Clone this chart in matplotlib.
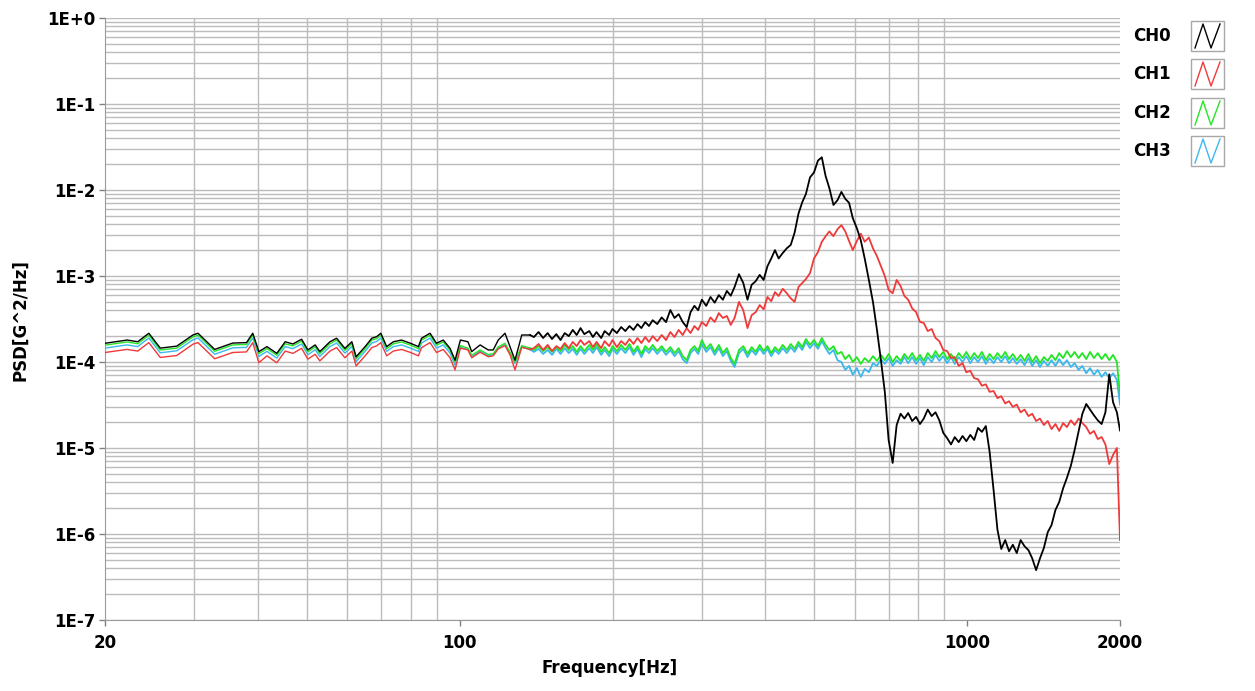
import numpy as np
import matplotlib
matplotlib.use("Agg")
import matplotlib.pyplot as plt
from matplotlib.ticker import FixedLocator, NullFormatter
from matplotlib.patches import Rectangle

# ---- data ----
# low band: 20 .. ~138 Hz
freq_lo = [20.0, 22.1, 23.2, 24.4, 25.7, 27.7, 29.8, 30.5, 32.9, 35.7,
           38.0, 39.1, 40.2, 41.7, 43.6, 45.3, 46.9, 48.8, 50.2, 51.9,
           53.0, 55.5, 57.2, 59.4, 61.3, 62.5, 65.1, 67.1, 68.6, 69.9,
           71.8, 74.0, 76.8, 80.0, 82.9, 84.1, 87.4, 90.0, 92.8, 95.7,
           97.9, 100.3, 103.8, 105.6, 109.7, 113.8, 116.4, 119.1, 122.8, 125.6,
           128.5, 132.5, 137.6]

ch0_lo = [1.65e-4, 1.80e-4, 1.72e-4, 2.16e-4, 1.45e-4, 1.53e-4, 2.06e-4, 2.16e-4, 1.40e-4, 1.66e-4,
          1.68e-4, 2.16e-4, 1.32e-4, 1.51e-4, 1.26e-4, 1.72e-4, 1.62e-4, 1.84e-4, 1.38e-4, 1.58e-4,
          1.32e-4, 1.72e-4, 1.89e-4, 1.44e-4, 1.72e-4, 1.15e-4, 1.51e-4, 1.89e-4, 1.97e-4, 2.16e-4,
          1.51e-4, 1.72e-4, 1.80e-4, 1.65e-4, 1.51e-4, 1.89e-4, 2.16e-4, 1.65e-4, 1.80e-4, 1.44e-4,
          1.05e-4, 1.80e-4, 1.72e-4, 1.32e-4, 1.58e-4, 1.38e-4, 1.38e-4, 1.80e-4, 2.16e-4, 1.51e-4,
          1.05e-4, 2.06e-4, 2.06e-4]

ch1_lo = [1.29e-4, 1.40e-4, 1.34e-4, 1.68e-4, 1.13e-4, 1.19e-4, 1.61e-4, 1.68e-4, 1.09e-4, 1.29e-4,
          1.31e-4, 1.68e-4, 9.8e-5, 1.18e-4, 9.8e-5, 1.34e-4, 1.26e-4, 1.44e-4, 1.08e-4, 1.23e-4,
          1.03e-4, 1.34e-4, 1.47e-4, 1.12e-4, 1.34e-4, 9.0e-5, 1.18e-4, 1.47e-4, 1.54e-4, 1.68e-4,
          1.18e-4, 1.34e-4, 1.40e-4, 1.29e-4, 1.18e-4, 1.47e-4, 1.68e-4, 1.29e-4, 1.40e-4, 1.12e-4,
          8.1e-5, 1.45e-4, 1.38e-4, 1.12e-4, 1.30e-4, 1.15e-4, 1.18e-4, 1.42e-4, 1.55e-4, 1.22e-4,
          8.1e-5, 1.48e-4, 1.40e-4]

ch2_lo = [1.57e-4, 1.71e-4, 1.63e-4, 2.05e-4, 1.38e-4, 1.45e-4, 1.96e-4, 2.05e-4, 1.33e-4, 1.58e-4,
          1.60e-4, 2.05e-4, 1.25e-4, 1.43e-4, 1.20e-4, 1.63e-4, 1.54e-4, 1.75e-4, 1.31e-4, 1.50e-4,
          1.25e-4, 1.63e-4, 1.80e-4, 1.37e-4, 1.63e-4, 1.09e-4, 1.43e-4, 1.80e-4, 1.87e-4, 2.05e-4,
          1.43e-4, 1.63e-4, 1.71e-4, 1.57e-4, 1.43e-4, 1.80e-4, 2.05e-4, 1.57e-4, 1.71e-4, 1.37e-4,
          1.00e-4, 1.55e-4, 1.45e-4, 1.20e-4, 1.38e-4, 1.22e-4, 1.25e-4, 1.50e-4, 1.65e-4, 1.30e-4,
          1.00e-4, 1.55e-4, 1.45e-4]

ch3_lo = [1.45e-4, 1.58e-4, 1.51e-4, 1.90e-4, 1.28e-4, 1.35e-4, 1.81e-4, 1.90e-4, 1.23e-4, 1.46e-4,
          1.48e-4, 1.90e-4, 1.16e-4, 1.33e-4, 1.11e-4, 1.51e-4, 1.43e-4, 1.62e-4, 1.21e-4, 1.39e-4,
          1.16e-4, 1.51e-4, 1.66e-4, 1.27e-4, 1.51e-4, 1.01e-4, 1.33e-4, 1.66e-4, 1.73e-4, 1.90e-4,
          1.33e-4, 1.51e-4, 1.58e-4, 1.45e-4, 1.33e-4, 1.66e-4, 1.90e-4, 1.45e-4, 1.58e-4, 1.27e-4,
          9.2e-5, 1.48e-4, 1.40e-4, 1.15e-4, 1.33e-4, 1.18e-4, 1.20e-4, 1.45e-4, 1.58e-4, 1.25e-4,
          9.6e-5, 1.50e-4, 1.40e-4]

# high band: 140 .. 2000 Hz
freq_hi = [140, 143, 146, 149, 152, 155, 158, 161, 164, 167,
           170, 173, 176, 180, 183, 186, 190, 193, 197, 200,
           204, 208, 212, 216, 220, 224, 228, 232, 236, 240,
           245, 250, 255, 260, 265, 270, 275, 280, 285, 290,
           295, 300, 306, 312, 318, 324, 330, 336, 342, 348,
           355, 362, 369, 376, 383, 390, 397, 404, 411, 418,
           425, 433, 441, 449, 457, 465, 473, 481, 490, 499,
           508, 517, 526, 535, 545, 555, 565, 575, 585, 595,
           606, 617, 628, 640, 652, 664, 676, 688, 700, 713,
           726, 739, 752, 765, 779, 793, 807, 821, 836, 851,
           866, 881, 897, 913, 929, 945, 962, 979, 996, 1014,
           1032, 1050, 1069, 1088, 1107, 1127, 1147, 1167, 1188, 1209,
           1230, 1252, 1274, 1297, 1320, 1343, 1367, 1391, 1416, 1441,
           1466, 1492, 1518, 1545, 1572, 1600, 1628, 1657, 1686, 1716,
           1746, 1777, 1808, 1840, 1872, 1905, 1938, 1972, 2000]

ch0_hi = [1.95e-4, 2.23e-4, 1.90e-4, 2.17e-4, 1.85e-4, 2.11e-4, 1.80e-4, 2.17e-4, 2.00e-4, 2.36e-4,
          2.06e-4, 2.48e-4, 2.11e-4, 2.29e-4, 1.95e-4, 2.23e-4, 1.90e-4, 2.29e-4, 2.06e-4, 2.42e-4,
          2.17e-4, 2.55e-4, 2.29e-4, 2.62e-4, 2.36e-4, 2.76e-4, 2.48e-4, 2.91e-4, 2.62e-4, 3.06e-4,
          2.76e-4, 3.30e-4, 2.91e-4, 4.02e-4, 3.25e-4, 3.60e-4, 2.92e-4, 2.55e-4, 3.80e-4, 4.50e-4,
          4.00e-4, 5.30e-4, 4.50e-4, 5.70e-4, 4.90e-4, 6.00e-4, 5.30e-4, 6.70e-4, 5.90e-4, 7.45e-4,
          1.05e-3, 8.30e-4, 5.30e-4, 7.90e-4, 8.70e-4, 1.03e-3, 9.00e-4, 1.30e-3, 1.60e-3, 2.00e-3,
          1.60e-3, 1.85e-3, 2.10e-3, 2.30e-3, 3.20e-3, 5.30e-3, 7.20e-3, 9.00e-3, 1.40e-2, 1.60e-2,
          2.20e-2, 2.40e-2, 1.45e-2, 1.05e-2, 6.70e-3, 7.60e-3, 9.50e-3, 7.90e-3, 7.10e-3, 4.70e-3,
          3.60e-3, 2.60e-3, 1.60e-3, 9.00e-4, 5.00e-4, 2.36e-4, 1.05e-4, 4.50e-5, 1.24e-5, 6.70e-6,
          1.85e-5, 2.50e-5, 2.20e-5, 2.55e-5, 2.06e-5, 2.30e-5, 1.90e-5, 2.20e-5, 2.80e-5, 2.35e-5,
          2.60e-5, 2.10e-5, 1.50e-5, 1.30e-5, 1.10e-5, 1.34e-5, 1.17e-5, 1.38e-5, 1.20e-5, 1.42e-5,
          1.24e-5, 1.71e-5, 1.54e-5, 1.80e-5, 9.00e-6, 3.25e-6, 1.12e-6, 6.70e-7, 8.50e-7, 6.30e-7,
          7.50e-7, 6.00e-7, 8.50e-7, 7.20e-7, 6.50e-7, 5.20e-7, 3.80e-7, 5.20e-7, 6.90e-7, 1.05e-6,
          1.27e-6, 1.90e-6, 2.36e-6, 3.40e-6, 4.50e-6, 6.20e-6, 9.50e-6, 1.54e-5, 2.50e-5, 3.25e-5,
          2.80e-5, 2.40e-5, 2.10e-5, 1.90e-5, 2.60e-5, 7.20e-5, 3.40e-5, 2.60e-5, 1.60e-5]

ch1_hi = [1.45e-4, 1.62e-4, 1.38e-4, 1.58e-4, 1.34e-4, 1.53e-4, 1.42e-4, 1.66e-4, 1.45e-4, 1.71e-4,
          1.53e-4, 1.80e-4, 1.58e-4, 1.75e-4, 1.49e-4, 1.71e-4, 1.45e-4, 1.75e-4, 1.53e-4, 1.80e-4,
          1.49e-4, 1.75e-4, 1.58e-4, 1.85e-4, 1.62e-4, 1.90e-4, 1.66e-4, 1.95e-4, 1.71e-4, 2.00e-4,
          1.75e-4, 2.06e-4, 1.80e-4, 2.23e-4, 1.95e-4, 2.36e-4, 2.06e-4, 2.48e-4, 2.17e-4, 2.62e-4,
          2.36e-4, 2.92e-4, 2.62e-4, 3.30e-4, 2.92e-4, 3.70e-4, 3.25e-4, 3.43e-4, 2.70e-4, 3.25e-4,
          5.00e-4, 4.00e-4, 2.48e-4, 3.50e-4, 3.80e-4, 4.60e-4, 4.10e-4, 5.70e-4, 5.10e-4, 6.50e-4,
          5.85e-4, 7.10e-4, 6.30e-4, 5.50e-4, 5.00e-4, 7.45e-4, 8.30e-4, 9.20e-4, 1.08e-3, 1.60e-3,
          1.90e-3, 2.50e-3, 2.90e-3, 3.30e-3, 2.90e-3, 3.50e-3, 3.90e-3, 3.30e-3, 2.55e-3, 2.00e-3,
          2.55e-3, 3.10e-3, 2.50e-3, 2.80e-3, 2.10e-3, 1.70e-3, 1.30e-3, 1.00e-3, 6.90e-4, 6.30e-4,
          9.00e-4, 7.65e-4, 5.85e-4, 5.30e-4, 4.20e-4, 3.80e-4, 2.92e-4, 2.84e-4, 2.29e-4, 2.42e-4,
          1.90e-4, 1.75e-4, 1.38e-4, 1.34e-4, 1.11e-4, 1.14e-4, 9.00e-5, 9.70e-5, 7.60e-5, 7.90e-5,
          6.50e-5, 6.30e-5, 5.30e-5, 5.50e-5, 4.50e-5, 4.60e-5, 3.80e-5, 4.00e-5, 3.30e-5, 3.50e-5,
          3.00e-5, 3.20e-5, 2.60e-5, 2.80e-5, 2.35e-5, 2.50e-5, 2.06e-5, 2.20e-5, 1.85e-5, 2.06e-5,
          1.66e-5, 1.90e-5, 1.58e-5, 1.95e-5, 1.75e-5, 2.10e-5, 1.85e-5, 2.20e-5, 1.95e-5, 1.75e-5,
          1.46e-5, 1.58e-5, 1.27e-5, 1.34e-5, 1.10e-5, 6.50e-6, 8.30e-6, 1.00e-5, 8.50e-7]

ch2_hi = [1.38e-4, 1.53e-4, 1.34e-4, 1.49e-4, 1.31e-4, 1.49e-4, 1.34e-4, 1.58e-4, 1.38e-4, 1.53e-4,
          1.31e-4, 1.53e-4, 1.34e-4, 1.58e-4, 1.38e-4, 1.62e-4, 1.31e-4, 1.49e-4, 1.27e-4, 1.53e-4,
          1.34e-4, 1.58e-4, 1.38e-4, 1.62e-4, 1.31e-4, 1.53e-4, 1.24e-4, 1.53e-4, 1.38e-4, 1.58e-4,
          1.34e-4, 1.53e-4, 1.31e-4, 1.49e-4, 1.27e-4, 1.45e-4, 1.17e-4, 1.05e-4, 1.38e-4, 1.53e-4,
          1.34e-4, 1.80e-4, 1.42e-4, 1.62e-4, 1.31e-4, 1.58e-4, 1.27e-4, 1.45e-4, 1.11e-4, 9.50e-5,
          1.38e-4, 1.53e-4, 1.24e-4, 1.49e-4, 1.31e-4, 1.58e-4, 1.34e-4, 1.53e-4, 1.27e-4, 1.49e-4,
          1.34e-4, 1.58e-4, 1.38e-4, 1.62e-4, 1.42e-4, 1.71e-4, 1.49e-4, 1.85e-4, 1.58e-4, 1.80e-4,
          1.53e-4, 1.90e-4, 1.58e-4, 1.38e-4, 1.53e-4, 1.24e-4, 1.31e-4, 1.08e-4, 1.21e-4, 1.00e-4,
          1.14e-4, 9.50e-5, 1.11e-4, 1.00e-4, 1.17e-4, 1.03e-4, 1.21e-4, 1.05e-4, 1.24e-4, 1.00e-4,
          1.17e-4, 1.03e-4, 1.24e-4, 1.08e-4, 1.27e-4, 1.05e-4, 1.21e-4, 1.03e-4, 1.27e-4, 1.11e-4,
          1.34e-4, 1.14e-4, 1.31e-4, 1.08e-4, 1.24e-4, 1.05e-4, 1.27e-4, 1.11e-4, 1.31e-4, 1.08e-4,
          1.27e-4, 1.11e-4, 1.31e-4, 1.05e-4, 1.24e-4, 1.08e-4, 1.27e-4, 1.11e-4, 1.31e-4, 1.08e-4,
          1.24e-4, 1.05e-4, 1.21e-4, 1.03e-4, 1.24e-4, 1.00e-4, 1.17e-4, 9.70e-5, 1.14e-4, 1.03e-4,
          1.21e-4, 1.05e-4, 1.27e-4, 1.11e-4, 1.34e-4, 1.14e-4, 1.31e-4, 1.11e-4, 1.27e-4, 1.08e-4,
          1.31e-4, 1.11e-4, 1.27e-4, 1.08e-4, 1.24e-4, 1.05e-4, 1.21e-4, 1.00e-4, 4.10e-5]

ch3_hi = [1.31e-4, 1.42e-4, 1.24e-4, 1.38e-4, 1.21e-4, 1.42e-4, 1.24e-4, 1.45e-4, 1.27e-4, 1.42e-4,
          1.21e-4, 1.42e-4, 1.24e-4, 1.45e-4, 1.27e-4, 1.49e-4, 1.21e-4, 1.38e-4, 1.17e-4, 1.42e-4,
          1.24e-4, 1.45e-4, 1.27e-4, 1.49e-4, 1.21e-4, 1.42e-4, 1.14e-4, 1.42e-4, 1.27e-4, 1.45e-4,
          1.24e-4, 1.42e-4, 1.21e-4, 1.38e-4, 1.17e-4, 1.34e-4, 1.08e-4, 9.70e-5, 1.27e-4, 1.42e-4,
          1.24e-4, 1.62e-4, 1.31e-4, 1.49e-4, 1.21e-4, 1.45e-4, 1.17e-4, 1.34e-4, 1.03e-4, 8.75e-5,
          1.27e-4, 1.42e-4, 1.14e-4, 1.38e-4, 1.21e-4, 1.45e-4, 1.24e-4, 1.42e-4, 1.17e-4, 1.38e-4,
          1.24e-4, 1.45e-4, 1.27e-4, 1.49e-4, 1.31e-4, 1.58e-4, 1.38e-4, 1.71e-4, 1.45e-4, 1.66e-4,
          1.42e-4, 1.75e-4, 1.45e-4, 1.24e-4, 1.38e-4, 1.05e-4, 1.00e-4, 8.10e-5, 9.00e-5, 7.10e-5,
          8.50e-5, 6.70e-5, 8.30e-5, 7.60e-5, 9.70e-5, 9.00e-5, 1.08e-4, 9.50e-5, 1.11e-4, 9.00e-5,
          1.05e-4, 9.50e-5, 1.14e-4, 9.70e-5, 1.14e-4, 9.50e-5, 1.11e-4, 9.20e-5, 1.14e-4, 1.00e-4,
          1.21e-4, 1.03e-4, 1.17e-4, 9.70e-5, 1.14e-4, 9.50e-5, 1.14e-4, 1.00e-4, 1.17e-4, 9.70e-5,
          1.14e-4, 1.00e-4, 1.17e-4, 9.50e-5, 1.11e-4, 9.70e-5, 1.14e-4, 1.00e-4, 1.17e-4, 9.70e-5,
          1.11e-4, 9.50e-5, 1.08e-4, 9.20e-5, 1.11e-4, 9.00e-5, 1.05e-4, 8.75e-5, 1.03e-4, 9.00e-5,
          1.05e-4, 9.00e-5, 1.08e-4, 9.20e-5, 1.05e-4, 8.75e-5, 9.70e-5, 8.10e-5, 9.00e-5, 7.40e-5,
          8.50e-5, 7.10e-5, 8.10e-5, 6.70e-5, 7.60e-5, 6.50e-5, 7.40e-5, 6.20e-5, 3.20e-5]

channels = ["CH0", "CH1", "CH2", "CH3"]
colors = ["#000000", "#f03a3a", "#22e622", "#3cb8ee"]
y_ticks = [1e-7, 1e-6, 1e-5, 1e-4, 1e-3, 1e-2, 1e-1, 1e0]
y_labels = ["1E-7", "1E-6", "1E-5", "1E-4", "1E-3", "1E-2", "1E-1", "1E+0"]
x_ticks = [20, 100, 1000, 2000]
x_labels = ["20", "100", "1000", "2000"]

series = [(ch0_lo, ch0_hi), (ch1_lo, ch1_hi), (ch2_lo, ch2_hi), (ch3_lo, ch3_hi)]

W, H = 1255, 691
fig = plt.figure(figsize=(W / 100, H / 100), dpi=100)
ax = fig.add_axes([105 / W, 1 - 620 / H, 1015 / W, 602 / H])

# CH0 ends up on top, CH3 at the bottom; the noisy upper band is drawn a bit heavier
for i in [3, 2, 1, 0]:
    lo, hi = series[i]
    z = 3 + (3 - i)
    ax.plot(freq_lo, lo, color=colors[i], lw=1.0, zorder=z)
    ax.plot(freq_lo[-1:] + freq_hi, lo[-1:] + hi, color=colors[i], lw=1.3, zorder=z)

ax.set_xscale("log")
ax.set_yscale("log")
ax.set_xlim(20, 2000)
ax.set_ylim(1e-7, 1)

grid_col = "#bcbcbc"
ax.xaxis.set_major_locator(FixedLocator(x_ticks))
ax.xaxis.set_major_formatter(plt.FixedFormatter(x_labels))
ax.xaxis.set_minor_locator(FixedLocator([30, 40, 50, 60, 70, 80, 90, 100,
                                         200, 300, 400, 500, 600, 700, 800, 900, 1000]))
ax.xaxis.set_minor_formatter(NullFormatter())
ax.yaxis.set_major_locator(FixedLocator(y_ticks))
ax.yaxis.set_major_formatter(plt.FixedFormatter(y_labels))
ax.yaxis.set_minor_locator(matplotlib.ticker.LogLocator(base=10, subs=np.arange(2, 10), numticks=20))
ax.yaxis.set_minor_formatter(NullFormatter())

ax.grid(False)
ax.xaxis.grid(True, which="minor", color=grid_col, lw=1)
ax.yaxis.grid(True, which="both", color=grid_col, lw=1)
ax.set_axisbelow(True)

ax.tick_params(which="major", length=4, width=1, color="#808080", labelsize=12, pad=3)
ax.tick_params(which="minor", length=0)
for lab in ax.get_xticklabels() + ax.get_yticklabels():
    lab.set_fontweight("bold")
ax.tick_params(axis="x", pad=6)

for s in ["top", "right"]:
    ax.spines[s].set_visible(False)
for s in ["left", "bottom"]:
    ax.spines[s].set_color("#9a9a9a")

fig.text(610 / W, 1 - 668 / H, "Frequency[Hz]", ha="center", va="center",
         fontsize=12, fontweight="bold")
fig.text(20 / W, 1 - 320 / H, "PSD[G^2/Hz]", ha="center", va="center",
         rotation=90, fontsize=12, fontweight="bold")

# legend drawn by hand: label + small box with a zigzag
lg = fig.add_axes([0, 0, 1, 1])
lg.set_xlim(0, W)
lg.set_ylim(H, 0)
lg.axis("off")
legend_y = [36, 74, 113, 151]
for name, col, yc in zip(channels, colors, legend_y):
    lg.text(1133, yc, name, ha="left", va="center", fontsize=12, fontweight="bold")
    lg.add_patch(Rectangle((1191, yc - 15), 33, 30, fill=False, ec="#a8a8a8", lw=1))
    lg.plot([1195, 1203, 1211, 1220], [yc + 12, yc - 12, yc + 12, yc - 12], color=col, lw=1)

fig.savefig("out.png", dpi=100)
